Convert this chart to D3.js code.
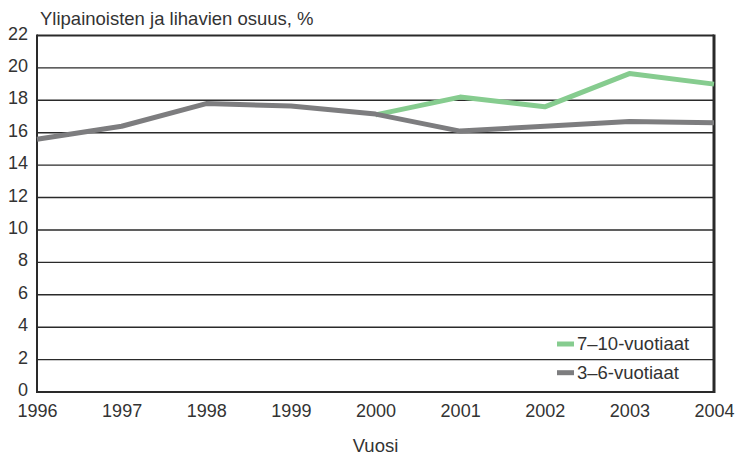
<!DOCTYPE html>
<html>
<head>
<meta charset="utf-8">
<script src="https://cdn.jsdelivr.net/npm/d3@7"></script>
<style>
  html, body { margin: 0; padding: 0; background: #fff; }
  svg text { font-family: "Liberation Sans Narrow", "Liberation Sans", sans-serif; fill: #333; }
</style>
</head>
<body>
<svg id="chart" width="737" height="459"></svg>
<script>
// Share of overweight and obese children, %
const years = [1996, 1997, 1998, 1999, 2000, 2001, 2002, 2003, 2004];
const kids3to6 = [15.6, 16.4, 17.8, 17.65, 17.15, 16.1, 16.4, 16.7, 16.62];
const yearsOlder = [2000, 2001, 2002, 2003, 2004];
const kids7to10 = [17.1, 18.2, 17.6, 19.65, 19.0];
const yTicks = [0, 2, 4, 6, 8, 10, 12, 14, 16, 18, 20, 22];
const seriesNames = ["7\u201310-vuotiaat", "3\u20136-vuotiaat"];
const seriesColors = ["#86cc8f", "#7d7d7f"];
const yTitle = "Ylipainoisten ja lihavien osuus, %";
const xTitle = "Vuosi";

const fontSize = "18.5px";
const tickFontSize = "18px";
const svg = d3.select("#chart");
const plotLeft = 37, plotRight = 714, plotTop = 35.5, plotBottom = 392;

const x = d3.scaleLinear().domain([1996, 2004]).range([plotLeft, plotRight]);
const y = d3.scaleLinear().domain([0, 22]).range([plotBottom, plotTop]);

// horizontal gridlines
svg.append("g")
  .selectAll("line")
  .data(yTicks.filter(t => t > 0 && t < 22))
  .join("line")
  .attr("x1", plotLeft).attr("x2", plotRight)
  .attr("y1", d => y(d)).attr("y2", d => y(d))
  .attr("stroke", "#2a2a2a")
  .attr("stroke-width", 1.4);

// y axis labels
const yAxis = d3.axisLeft(y).tickValues(yTicks).tickSize(0).tickPadding(9);
const gy = svg.append("g").attr("transform", `translate(${plotLeft},0)`).call(yAxis);
gy.select(".domain").remove();
gy.selectAll("text")
  .style("font-size", tickFontSize)
  .attr("dy", "0.2em")
  .attr("fill", "#333");

// x axis labels
const xAxis = d3.axisBottom(x).tickValues(years).tickFormat(d3.format("d")).tickSize(0).tickPadding(12);
const gx = svg.append("g").attr("transform", `translate(0,${plotBottom})`).call(xAxis);
gx.select(".domain").remove();
gx.selectAll("text")
  .style("font-size", tickFontSize)
  .attr("fill", "#333");

// plot frame
svg.append("line").attr("x1", plotLeft).attr("x2", plotRight).attr("y1", plotTop).attr("y2", plotTop)
  .attr("stroke", "#2a2a2a").attr("stroke-width", 2);
svg.append("line").attr("x1", plotLeft).attr("x2", plotRight + 1).attr("y1", plotBottom).attr("y2", plotBottom)
  .attr("stroke", "#2a2a2a").attr("stroke-width", 2);
svg.append("line").attr("x1", plotLeft).attr("x2", plotLeft).attr("y1", plotTop - 1).attr("y2", plotBottom + 1)
  .attr("stroke", "#2a2a2a").attr("stroke-width", 2);
svg.append("line").attr("x1", plotRight).attr("x2", plotRight).attr("y1", plotTop - 1).attr("y2", plotBottom + 1)
  .attr("stroke", "#2a2a2a").attr("stroke-width", 3);

// series lines
const line = d3.line().x(d => x(d[0])).y(d => y(d[1]));
svg.append("path")
  .datum(yearsOlder.map((yr, i) => [yr, kids7to10[i]]))
  .attr("d", line)
  .attr("fill", "none")
  .attr("stroke", seriesColors[0])
  .attr("stroke-width", 5)
  .attr("stroke-linejoin", "round");
svg.append("path")
  .datum(years.map((yr, i) => [yr, kids3to6[i]]))
  .attr("d", line)
  .attr("fill", "none")
  .attr("stroke", seriesColors[1])
  .attr("stroke-width", 5)
  .attr("stroke-linejoin", "round");

// legend
const legend = svg.append("g").attr("transform", "translate(557,344)");
seriesNames.forEach((name, i) => {
  const g = legend.append("g").attr("transform", `translate(0,${i * 28.7})`);
  g.append("line").attr("x1", 0).attr("x2", 17).attr("y1", 0).attr("y2", 0)
    .attr("stroke", seriesColors[i]).attr("stroke-width", 5);
  g.append("text").attr("x", 20).attr("y", 0).attr("dy", "0.35em")
    .style("font-size", fontSize).text(name);
});

// titles
svg.append("text").attr("x", 40).attr("y", 25).style("font-size", fontSize).text(yTitle);
svg.append("text").attr("x", (plotLeft + plotRight) / 2).attr("y", 452)
  .attr("text-anchor", "middle").style("font-size", fontSize).text(xTitle);
</script>
</body>
</html>
